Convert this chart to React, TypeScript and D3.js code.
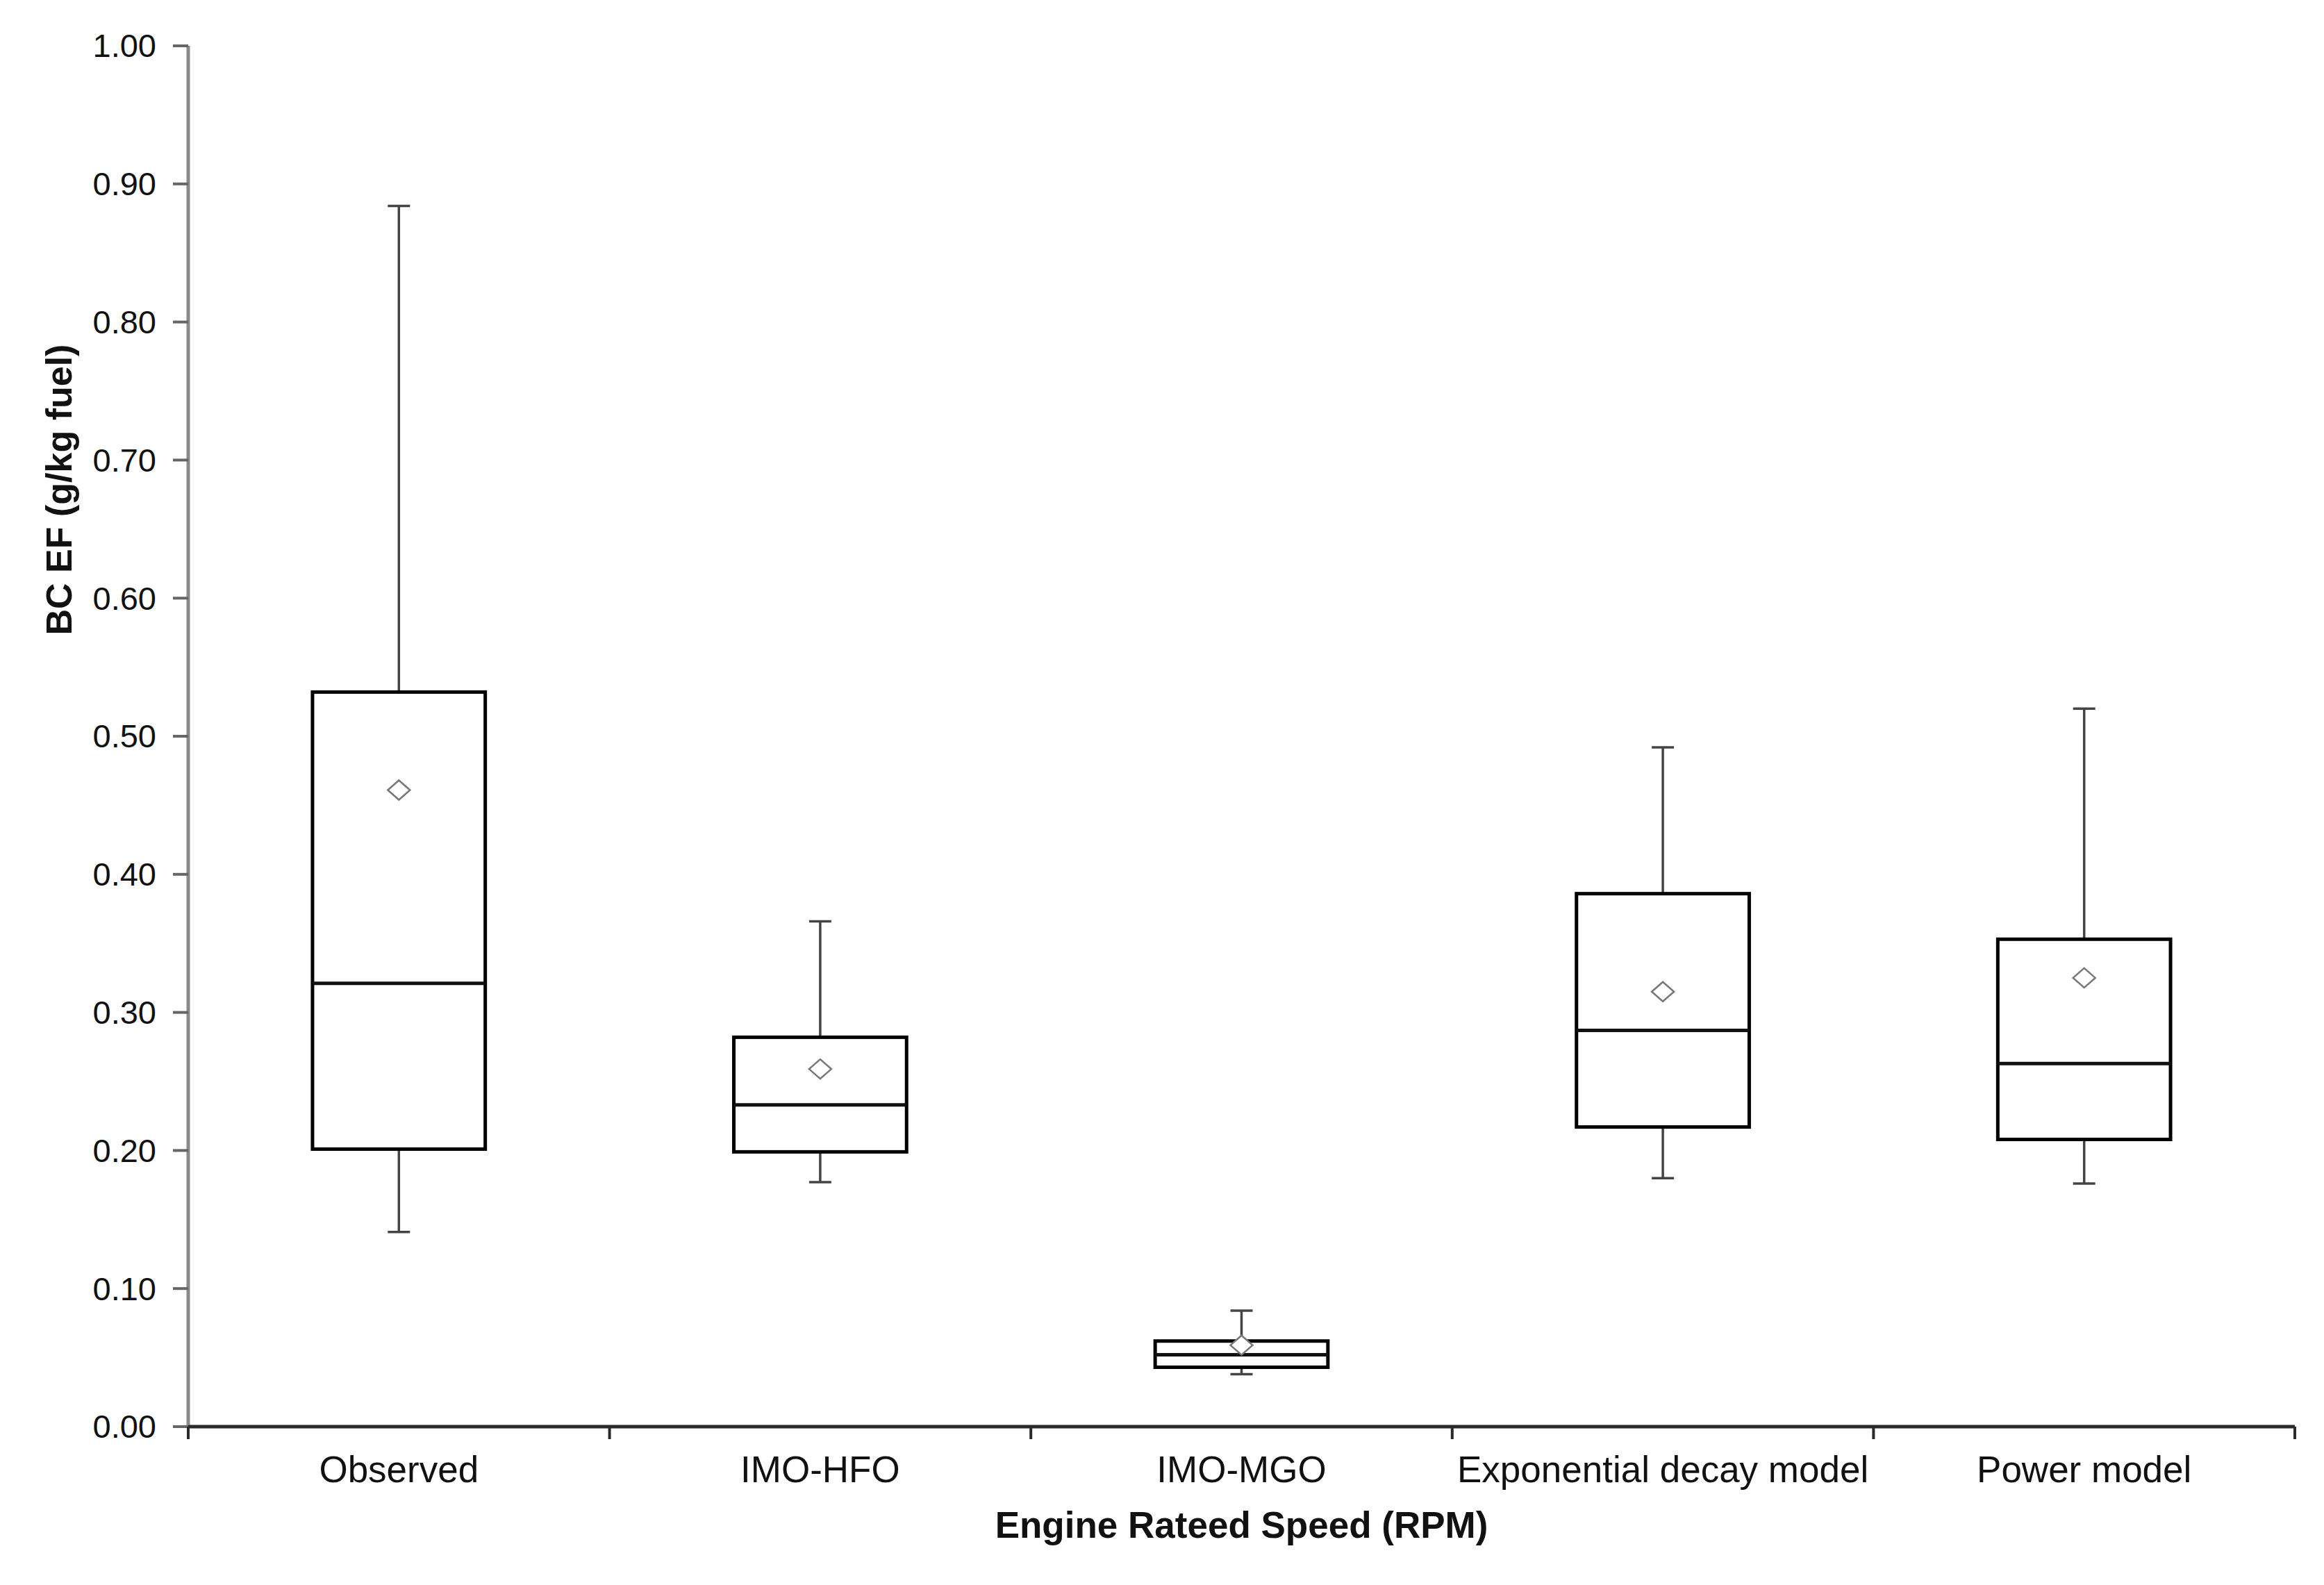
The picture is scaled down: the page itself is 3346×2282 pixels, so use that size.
import React from "react";
import { scaleBand, scaleLinear, range, format } from "d3";

// box plot stats
const categories = ["Observed", "IMO-HFO", "IMO-MGO", "Exponential decay model", "Power model"];
const whiskerLow = [0.141, 0.177, 0.038, 0.18, 0.176];
const q1 = [0.201, 0.199, 0.043, 0.217, 0.208];
const median = [0.321, 0.233, 0.052, 0.287, 0.263];
const q3 = [0.532, 0.282, 0.062, 0.386, 0.353];
const whiskerHigh = [0.884, 0.366, 0.084, 0.492, 0.52];
const means = [0.461, 0.259, 0.059, 0.315, 0.325];
const yTicks = range(0, 1.0001, 0.1);

const FONT = "'Liberation Sans', Arial, sans-serif";

function App() {
  const width = 3346;
  const height = 2282;
  const margin = { top: 66, right: 42, bottom: 228, left: 271 };

  const xScale = scaleBand()
    .domain(categories)
    .range([margin.left, width - margin.right])
    .padding(0);

  const yScale = scaleLinear()
    .domain([0, 1])
    .range([height - margin.bottom, margin.top]);

  const fmt = format(".2f");
  const boxW = xScale.bandwidth() * 0.41;
  const capW = 32;
  const y0 = yScale(0);
  const bandEdges = categories.map(c => xScale(c)).concat([width - margin.right]);

  return (
    <svg width={width} height={height} style={{ position: "absolute", left: 0, top: 0, background: "#fff" }}>
      {/* y axis */}
      <line x1={margin.left} x2={margin.left} y1={yScale(1)} y2={y0} stroke="#8a8a8a" strokeWidth={5} />
      {yTicks.map((t, i) => (
        <g key={i}>
          <line x1={margin.left - 22} x2={margin.left} y1={yScale(t)} y2={yScale(t)} stroke="#666" strokeWidth={4} />
          <text x={margin.left - 46} y={yScale(t)} dy="0.35em" textAnchor="end" fontSize={47} fontFamily={FONT} fill="#111">
            {fmt(t)}
          </text>
        </g>
      ))}

      {/* x axis */}
      <line x1={margin.left} x2={width - margin.right} y1={y0} y2={y0} stroke="#2a2a2a" strokeWidth={5} />
      {bandEdges.map((x, i) => (
        <line key={i} x1={x} x2={x} y1={y0} y2={y0 + 18} stroke="#2a2a2a" strokeWidth={4} />
      ))}
      {categories.map(c => (
        <text key={c} x={xScale(c) + xScale.bandwidth() / 2} y={y0 + 80} textAnchor="middle" fontSize={53} fontFamily={FONT} fill="#111">
          {c}
        </text>
      ))}

      {/* boxes */}
      {categories.map((c, i) => {
        const cx = xScale(c) + xScale.bandwidth() / 2;
        const my = yScale(means[i]);
        return (
          <g key={c}>
            <line x1={cx} x2={cx} y1={yScale(whiskerHigh[i])} y2={yScale(q3[i])} stroke="#444" strokeWidth={3.5} />
            <line x1={cx} x2={cx} y1={yScale(q1[i])} y2={yScale(whiskerLow[i])} stroke="#444" strokeWidth={3.5} />
            <line x1={cx - capW / 2} x2={cx + capW / 2} y1={yScale(whiskerHigh[i])} y2={yScale(whiskerHigh[i])} stroke="#444" strokeWidth={3.5} />
            <line x1={cx - capW / 2} x2={cx + capW / 2} y1={yScale(whiskerLow[i])} y2={yScale(whiskerLow[i])} stroke="#444" strokeWidth={3.5} />
            <rect
              x={cx - boxW / 2}
              y={yScale(q3[i])}
              width={boxW}
              height={yScale(q1[i]) - yScale(q3[i])}
              fill="none"
              stroke="#000"
              strokeWidth={5}
            />
            <line x1={cx - boxW / 2} x2={cx + boxW / 2} y1={yScale(median[i])} y2={yScale(median[i])} stroke="#111" strokeWidth={5} />
            <path
              d={`M${cx - 16},${my} L${cx},${my - 14} L${cx + 16},${my} L${cx},${my + 14} Z`}
              fill="#fff"
              stroke="#777"
              strokeWidth={2.5}
            />
          </g>
        );
      })}

      {/* axis titles */}
      <text
        x={(margin.left + width - margin.right) / 2}
        y={height - 68}
        textAnchor="middle"
        fontSize={53}
        fontWeight="bold"
        fontFamily={FONT}
        fill="#111"
      >
        Engine Rateed Speed (RPM)
      </text>
      <text
        transform={`translate(85, 705) rotate(-90)`}
        textAnchor="middle"
        dy="0.35em"
        fontSize={52}
        fontWeight="bold"
        fontFamily={FONT}
        fill="#111"
      >
        BC EF (g/kg fuel)
      </text>
    </svg>
  );
}

export default App;
